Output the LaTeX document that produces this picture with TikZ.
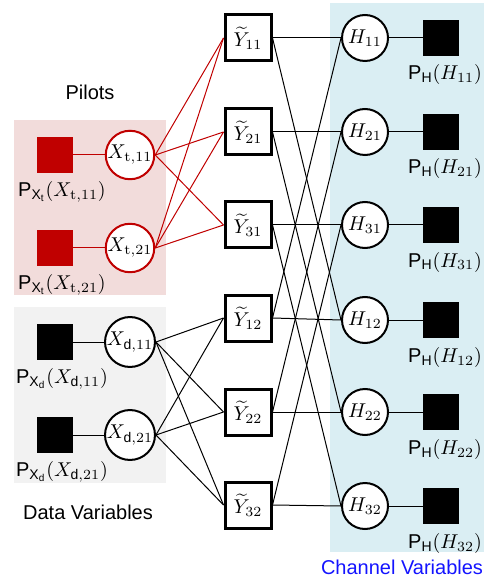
\documentclass[tikz,border=0pt]{standalone}
\usepackage{amsmath}
\usepackage{fontspec}
\setsansfont{Liberation Sans}
\definecolor{pilotred}{RGB}{192,0,0}
\definecolor{pilotbg}{RGB}{242,220,219}
\definecolor{databg}{RGB}{242,242,242}
\definecolor{chanbg}{RGB}{218,238,243}
\definecolor{chanblue}{RGB}{20,20,255}
\newcommand{\Psf}{\textsf{P}}
\begin{document}
\begin{tikzpicture}[x=0.5pt,y=-0.5pt,
  ybox/.style={draw, line width=1.5pt, fill=white, minimum size=23pt, inner sep=0pt},
  vcirc/.style={draw, circle, line width=1pt, fill=white, minimum size=23pt, inner sep=0pt},
  fac/.style={fill=black, minimum size=18pt, inner sep=0pt},
  rfac/.style={fill=pilotred, minimum size=18pt, inner sep=0pt},
  link/.style={line width=0.5pt},
  rlink/.style={line width=0.5pt, draw=pilotred},
  lab/.style={inner sep=0pt},
  caption/.style={font=\sffamily, inner sep=0pt}]
\useasboundingbox (0,0) rectangle (487,582);
% background regions
\fill[pilotbg] (14,120) rectangle (166,295);
\fill[databg] (14,307) rectangle (166,483);
\fill[chanbg] (330,3) rectangle (484,552);
% captions
\node[caption] (cpil) at (90,92) {Pilots};
\node[caption] (cdat) at (88,512) {Data Variables};
\node[caption, text=chanblue] (cchan) at (402,567) {Channel Variables};
% Y nodes
\node[ybox] (y11) at (248,38) {$\widetilde{Y}_{11}$};
\node[ybox] (y21) at (248,132) {$\widetilde{Y}_{21}$};
\node[ybox] (y31) at (248,225) {$\widetilde{Y}_{31}$};
\node[ybox] (y12) at (248,318) {$\widetilde{Y}_{12}$};
\node[ybox] (y22) at (248,412) {$\widetilde{Y}_{22}$};
\node[ybox] (y32) at (248,505) {$\widetilde{Y}_{32}$};
% H nodes
\node[vcirc] (h11) at (365,38) {$H_{11}$};
\node[vcirc] (h21) at (365,132) {$H_{21}$};
\node[vcirc] (h31) at (365,225) {$H_{31}$};
\node[vcirc] (h12) at (365,320) {$H_{12}$};
\node[vcirc] (h22) at (365,412) {$H_{22}$};
\node[vcirc] (h32) at (365,506) {$H_{32}$};
% H factors
\node[fac] (fh11) at (441,38) {};
\node[fac] (fh21) at (441,132) {};
\node[fac] (fh31) at (441,225) {};
\node[fac] (fh12) at (441,320) {};
\node[fac] (fh22) at (441,412) {};
\node[fac] (fh32) at (441,506) {};
\node[lab] (lh11) at (445,75) {$\Psf_{\textsf{H}}(H_{11})$};
\node[lab] (lh21) at (445,169) {$\Psf_{\textsf{H}}(H_{21})$};
\node[lab] (lh31) at (445,262) {$\Psf_{\textsf{H}}(H_{31})$};
\node[lab] (lh12) at (445,357) {$\Psf_{\textsf{H}}(H_{12})$};
\node[lab] (lh22) at (445,449) {$\Psf_{\textsf{H}}(H_{22})$};
\node[lab] (lh32) at (445,543) {$\Psf_{\textsf{H}}(H_{32})$};
% X nodes
\node[vcirc, draw=pilotred] (xt1) at (130,155) {$X_{\mathrm{t},11}$};
\node[vcirc, draw=pilotred] (xt2) at (130,248) {$X_{\mathrm{t},21}$};
\node[vcirc] (xd1) at (130,342) {$X_{\mathsf{d},11}$};
\node[vcirc] (xd2) at (130,435) {$X_{\mathsf{d},21}$};
% X factors
\node[rfac] (ft1) at (55,155) {};
\node[rfac] (ft2) at (55,248) {};
\node[fac] (fd1) at (55,342) {};
\node[fac] (fd2) at (55,435) {};
\node[lab] (lt1) at (62,192) {$\Psf_{\textsf{X}_\textsf{t}}(X_{\mathrm{t},11})$};
\node[lab] (lt2) at (62,285) {$\Psf_{\textsf{X}_\textsf{t}}(X_{\mathrm{t},21})$};
\node[lab] (ld1) at (62,379) {$\Psf_{\textsf{X}_\textsf{d}}(X_{\mathsf{d},11})$};
\node[lab] (ld2) at (62,472) {$\Psf_{\textsf{X}_\textsf{d}}(X_{\mathsf{d},21})$};
% factor-variable links
\draw[rlink] (ft1.east) -- (xt1.west);
\draw[rlink] (ft2.east) -- (xt2.west);
\draw[link] (fd1.east) -- (xd1.west);
\draw[link] (fd2.east) -- (xd2.west);
\foreach \a in {11,21,31,12,22,32}{
  \draw[link] (h\a.east) -- (fh\a.west);
}
% pilot links
\foreach \x in {xt1,xt2}{
  \foreach \y in {y11,y21,y31}{
    \draw[rlink] (\x.east) -- (\y.west);
  }
}
% data links
\foreach \x in {xd1,xd2}{
  \foreach \y in {y12,y22,y32}{
    \draw[link] (\x.east) -- (\y.west);
  }
}
% Y-H links
\foreach \i in {1,2,3}{
  \draw[link] (y\i1.east) -- (h\i1.west);
  \draw[link] (y\i1.east) -- (h\i2.west);
  \draw[link] (y\i2.east) -- (h\i1.west);
  \draw[link] (y\i2.east) -- (h\i2.west);
}
\end{tikzpicture}
\end{document}
